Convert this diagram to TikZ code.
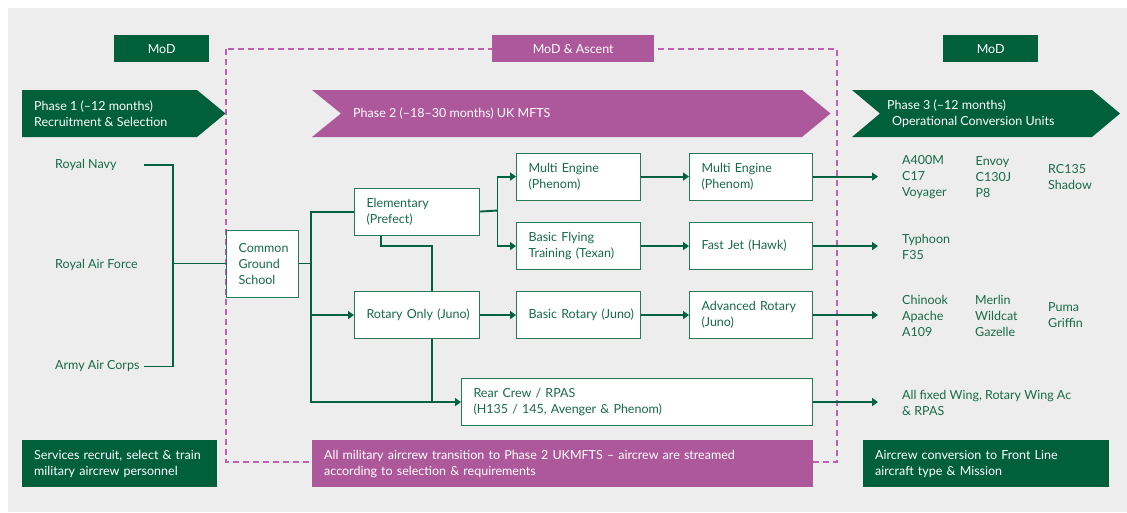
\documentclass[tikz,border=0pt]{standalone}
\usepackage{fontspec}
\setmainfont{Lato}
\usetikzlibrary{arrows.meta,positioning}
\definecolor{bggrey}{RGB}{237,237,237}
\definecolor{modgreen}{RGB}{0,96,60}
\definecolor{linegreen}{RGB}{0,98,62}
\definecolor{txtgreen}{RGB}{24,106,72}
\definecolor{edgegreen}{RGB}{40,122,86}
\definecolor{ascent}{RGB}{173,88,155}
\definecolor{dashpurple}{RGB}{192,96,178}
\newcommand{\lbl}{\fontsize{12.5}{16}\selectfont}
\tikzset{
  stage/.style={draw=edgegreen, line width=1.1pt, fill=white, text=txtgreen, align=left,
    inner xsep=12pt, inner ysep=0pt, minimum height=47pt, anchor=north west, font=\lbl},
  tag/.style={fill=#1, text=white, minimum width=95pt, minimum height=27pt, anchor=north west,
    inner sep=0pt, font=\lbl},
  note/.style={fill=#1, text=white, align=left, inner xsep=12pt, inner ysep=0pt,
    minimum height=47pt, anchor=north west, font=\lbl},
  crew/.style={text=txtgreen, align=left, inner sep=0pt, anchor=west, font=\lbl},
  link/.style={draw=linegreen, line width=1.9pt},
  flow/.style={link, -{Triangle[length=6pt,width=8pt]}}
}
\begin{document}
\begin{tikzpicture}[x=1pt, y=-1pt]
    \fill[white] (0,0) rectangle (1127,512);
    \fill[bggrey] (8,8) rectangle (1127,512);
    \draw[dashpurple, line width=1.5pt, dash pattern=on 6pt off 4pt] (226,49) rectangle (837,462);

    \fill[modgreen] (22,90) -- (197,90) -- (225.5,113.5) -- (197,137) -- (22,137) -- cycle;
    \fill[ascent] (312,90) -- (802,90) -- (830.5,113.5) -- (802,137) -- (312,137) -- (341,113.5) -- cycle;
    \fill[modgreen] (852,90) -- (1092,90) -- (1120,113.5) -- (1092,137) -- (852,137) -- (880,113.5) -- cycle;

    \node[tag=modgreen] (mod1) at (114,35) {MoD};
    \node[tag=ascent, minimum width=162pt] (modascent) at (492,35) {MoD \& Ascent};
    \node[tag=modgreen] (mod3) at (943,35) {MoD};

    \node[crew, text=white] (phase1) at (34,114) {Phase 1 (–12 months)\\Recruitment \& Selection};
    \node[crew, text=white] (phase2) at (353,113.5) {Phase 2 (–18–30 months) UK MFTS};
    \node[crew, text=white] (phase3) at (887,114) {Phase 3 (–12 months)\\\hspace*{5pt}Operational Conversion Units};

    \node[crew] (navy) at (55,165) {Royal Navy};
    \node[crew] (raf) at (55,265) {Royal Air Force};
    \node[crew] (aac) at (55,366.5) {Army Air Corps};

    \node[stage, text width=48pt, minimum height=67pt] (cgs) at (226,230) {Common\\Ground\\School};
    \node[stage, text width=101pt] (elem) at (354,187.5) {Elementary\\(Prefect)};
    \node[stage, text width=101pt] (rotary) at (354,291) {\mbox{Rotary Only (Juno)}};
    \node[stage, text width=100pt] (me1) at (516,152.5) {Multi Engine\\(Phenom)};
    \node[stage, text width=100pt] (bft) at (516,222) {Basic Flying\\\mbox{Training (Texan)}};
    \node[stage, text width=100pt] (basicrot) at (516,291) {\mbox{Basic Rotary (Juno)}};
    \node[stage, text width=99pt] (me2) at (689,152.5) {Multi Engine\\(Phenom)};
    \node[stage, text width=99pt] (fastjet) at (689,222) {Fast Jet (Hawk)};
    \node[stage, text width=99pt] (advrot) at (689,291) {Advanced Rotary\\(Juno)};
    \node[stage, text width=327pt] (rear) at (461,378) {Rear Crew / RPAS\\(H135 / 145, Avenger \& Phenom)};

    \node[crew] (a400m) at (902,177.5) {A400M\\C17\\Voyager};
    \node[crew] (envoy) at (975.5,177.5) {Envoy\\C130J\\P8};
    \node[crew] (rc135) at (1048,177) {RC135\\Shadow};
    \node[crew] (typhoon) at (902,246.5) {Typhoon\\F35};
    \node[crew] (chinook) at (902,315.5) {Chinook\\Apache\\A109};
    \node[crew] (merlin) at (975,315.5) {Merlin\\Wildcat\\Gazelle};
    \node[crew] (puma) at (1048,315.3) {Puma\\Griffin};
    \node[crew] (allwing) at (902,403) {All fixed Wing, Rotary Wing Ac\\\& RPAS};

    \node[note=modgreen, text width=171pt] (services) at (22,440) {Services recruit, select \& train\\military aircrew personnel};
    \node[note=ascent, text width=477pt] (streamed) at (312,440) {All military aircrew transition to Phase 2 UKMFTS – aircrew are streamed\\according to selection \& requirements};
    \node[note=modgreen, text width=222pt] (frontline) at (863,440) {Aircrew conversion to Front Line\\aircraft type \& Mission};

    \coordinate (navyend) at (144,165);
    \coordinate (aacend) at (144,366.5);
    \coordinate (fork) at (173,263.5);
    \coordinate (split) at (311,263.5);
    \coordinate (esplit) at (497.5,210.5);
    \coordinate (step) at (432,246);

    \draw[link] (navyend) -| (fork) |- (aacend);
    \draw[link] (fork) -- (cgs.west |- fork);
    \draw[link] (cgs.east |- split) -- (split);
    \draw[link] (split) |- (elem.west);
    \draw[flow] (split) |- (rotary.west);
    \draw[flow] (split) |- (rear.west);
    \draw[link] (elem.east) -- (esplit);
    \draw[flow] (esplit) |- (me1.west);
    \draw[flow] (esplit) |- (bft.west);
    \draw[link] ([xshift=27pt]elem.south west) |- (step) -- (rotary.north -| step);
    \draw[link] (rotary.south -| step) -- (rear.west -| step);
    \draw[flow] (me1) -- (me2);
    \draw[flow] (bft) -- (fastjet);
    \draw[flow] (rotary) -- (basicrot);
    \draw[flow] (basicrot) -- (advrot);
    \draw[flow, shorten >=24pt] (me2) -- (me2 -| a400m.west);
    \draw[flow, shorten >=24pt] (fastjet) -- (fastjet -| typhoon.west);
    \draw[flow, shorten >=24pt] (advrot) -- (advrot -| chinook.west);
    \draw[flow, shorten >=24pt] (rear) -- (rear -| allwing.west);
\end{tikzpicture}
\end{document}
